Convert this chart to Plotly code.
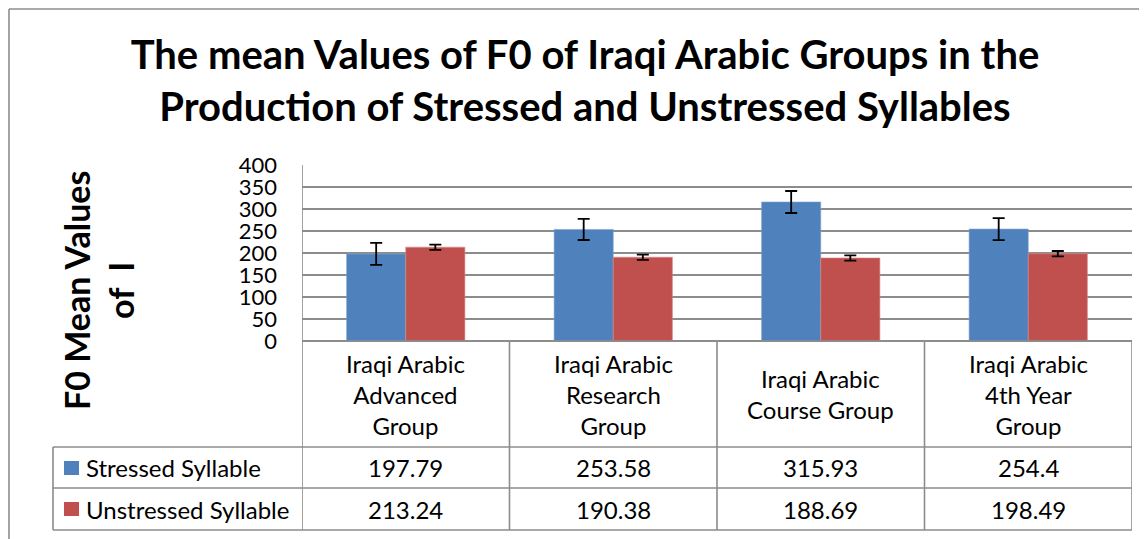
import plotly.graph_objects as go

groups = ["Iraqi Arabic<br>Advanced<br>Group", "Iraqi Arabic<br>Research<br>Group",
          "Iraqi Arabic<br>Course Group", "Iraqi Arabic<br>4th Year<br>Group"]
stressed = [197.79, 253.58, 315.93, 254.4]
unstressed = [213.24, 190.38, 188.69, 198.49]
stressed_err = [25, 24, 25, 25]
unstressed_err = [6, 6, 6, 6]
stressed_lbl = ["197.79", "253.58", "315.93", "254.4"]
unstressed_lbl = ["213.24", "190.38", "188.69", "198.49"]
series_names = ["Stressed Syllable", "Unstressed Syllable"]
colors = ["#4F81BD", "#C0504D"]

W, H = 1147, 539
OFF = 8  # page body margin, figure sits 8px in from the window corner
FONT = "Lato"
GRID = "#8c8c8c"


def fx(p):
    return (p - OFF) / W


def fy(p):
    return (H - (p - OFF)) / H


fig = go.Figure()
fig.add_trace(go.Bar(x=groups, y=stressed, name=series_names[0], marker_color=colors[0],
                     marker_line=dict(color="#7fa3d1", width=0.6),
                     error_y=dict(type="data", array=stressed_err, color="black", thickness=1.8, width=6)))
fig.add_trace(go.Bar(x=groups, y=unstressed, name=series_names[1], marker_color=colors[1],
                     marker_line=dict(color="#d98785", width=0.6),
                     error_y=dict(type="data", array=unstressed_err, color="black", thickness=1.8, width=6)))

shapes = []
line = dict(color=GRID, width=1.6)
# outer chart border (left and top, the rest is cropped)
shapes.append(dict(type="line", xref="paper", yref="paper", x0=fx(9), x1=1.0, y0=fy(9), y1=fy(9), line=line))
shapes.append(dict(type="line", xref="paper", yref="paper", x0=fx(9), x1=fx(9), y0=fy(9), y1=0.0, line=line))
# table horizontal lines
shapes.append(dict(type="line", xref="x", yref="paper", x0=-0.5, x1=3.5, y0=fy(341), y1=fy(341), line=line))
for yy in [447, 488, 530]:
    shapes.append(dict(type="line", xref="paper", yref="paper", x0=fx(53), x1=fx(1132), y0=fy(yy), y1=fy(yy), line=line))
# table vertical lines
shapes.append(dict(type="line", xref="paper", yref="paper", x0=fx(53), x1=fx(53), y0=fy(447), y1=fy(530), line=line))
shapes.append(dict(type="line", xref="x", yref="paper", x0=-0.5, x1=-0.5, y0=fy(165), y1=fy(530), line=line))
for i in range(4):
    xb = i + 0.5
    shapes.append(dict(type="line", xref="x", yref="paper", x0=xb, x1=xb, y0=fy(341), y1=fy(530), line=line))
# legend keys inside table
for i, c in enumerate(colors):
    yc = [468, 509][i]
    shapes.append(dict(type="rect", xref="paper", yref="paper", x0=fx(64), x1=fx(79),
                       y0=fy(yc - 7), y1=fy(yc + 7), fillcolor=c, line=dict(width=0)))

ann = []
tf = dict(family=FONT, size=24, color="black")
for i, g in enumerate(groups):
    ann.append(dict(x=g, xref="x", y=fy(394), yref="paper", text=g, showarrow=False, font=tf,
                    yanchor="middle"))
    ann.append(dict(x=g, xref="x", y=fy(467.5), yref="paper", text=stressed_lbl[i], showarrow=False,
                    font=tf, yanchor="middle"))
    ann.append(dict(x=g, xref="x", y=fy(509), yref="paper", text=unstressed_lbl[i], showarrow=False,
                    font=tf, yanchor="middle"))
for i, n in enumerate(series_names):
    ann.append(dict(x=fx(84), xref="paper", y=fy([467.5, 509][i]), yref="paper", text=n,
                    showarrow=False, font=tf, xanchor="left", yanchor="middle"))
ann.append(dict(x=fx(99), xref="paper", y=fy(291), yref="paper", text="F0 Mean Values<br>of \u00a0I",
                textangle=-90, showarrow=False, xanchor="center", yanchor="middle",
                font=dict(family=FONT, size=34, color="black", weight="bold")))

fig.update_layout(
    width=W, height=H, autosize=False,
    margin=dict(l=0, r=0, t=0, b=0, pad=0, autoexpand=False),
    paper_bgcolor="white", plot_bgcolor="white",
    barmode="group", bargap=0.43, bargroupgap=0,
    showlegend=False,
    title=dict(text="The mean Values of F0 of Iraqi Arabic Groups in the<br>Production of Stressed and Unstressed Syllables",
               x=fx(585), xanchor="center", y=fy(69), yanchor="middle", automargin=False,
               font=dict(family=FONT, size=40, color="black", weight="bold")),
    xaxis=dict(domain=[fx(302), fx(1132)], range=[-0.5, 3.5], showticklabels=False, automargin=False,
               showgrid=False, zeroline=False, showline=False),
    yaxis=dict(domain=[fy(341), fy(165)], range=[0, 400], dtick=50, showgrid=True, automargin=False,
               gridcolor=GRID, gridwidth=1.6, zeroline=True, zerolinecolor=GRID, zerolinewidth=1.6,
               showline=False, ticks="", ticklabelstandoff=24,
               tickfont=dict(family=FONT, size=22, color="black")),
    shapes=shapes, annotations=ann,
)

fig.write_html("out.html")
